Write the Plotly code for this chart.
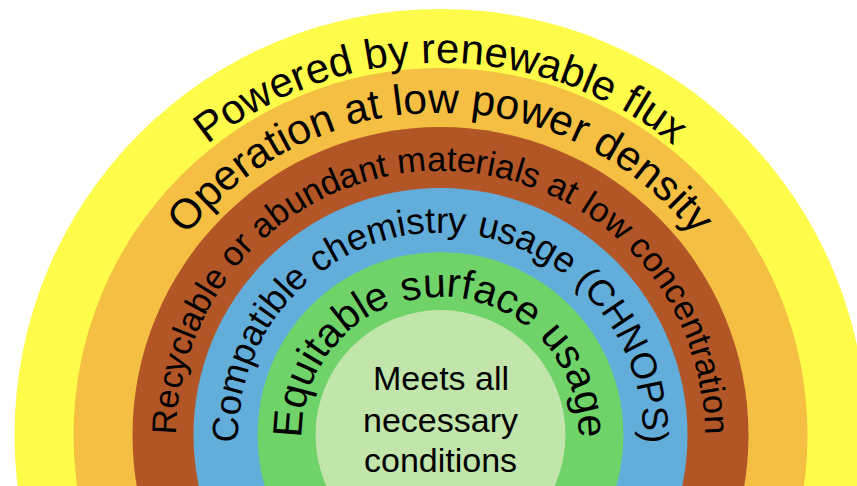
import math
import plotly.graph_objects as go

# ---- content ----
ring_labels = [
    "Powered by renewable flux",
    "Operation at low power density",
    "Recyclable or abundant materials at low concentration",
    "Compatible chemistry usage (CHNOPS)",
    "Equitable surface usage",
]
center_lines = ["Meets all", "necessary", "conditions"]

# ---- layout / style ----
W, H = 857, 486
CX, CY = 440.5, 435
outer_radii = [426, 367, 308, 247, 183, 125]
fills = ["#FEFB4B", "#F4BF43", "#B25628", "#63ADDA", "#6FD36A", "#C1E5AB"]
font_sizes = [42, 42.5, 34.5, 36.5, 41]
baseline_radii = [372, 322, 264, 202, 138]
center_font = 34
center_baselines = [390, 432, 472]
FONT = "Liberation Sans, Arial, Helvetica, sans-serif"

# Helvetica / Arial advance widths (per 1000 em)
HELV = {
    ' ': 278, '(': 333, ')': 333,
    'A': 667, 'B': 667, 'C': 722, 'D': 722, 'E': 667, 'F': 611, 'G': 778, 'H': 722,
    'I': 278, 'J': 500, 'K': 667, 'L': 556, 'M': 833, 'N': 722, 'O': 778, 'P': 667,
    'Q': 778, 'R': 722, 'S': 667, 'T': 611, 'U': 722, 'V': 667, 'W': 944, 'X': 667,
    'Y': 667, 'Z': 611,
    'a': 556, 'b': 556, 'c': 500, 'd': 556, 'e': 556, 'f': 278, 'g': 556, 'h': 556,
    'i': 222, 'j': 222, 'k': 500, 'l': 222, 'm': 833, 'n': 556, 'o': 556, 'p': 556,
    'q': 556, 'r': 333, 's': 500, 't': 278, 'u': 556, 'v': 500, 'w': 722, 'x': 500,
    'y': 500, 'z': 500,
}

shapes = []
for r, c in zip(outer_radii, fills):
    shapes.append(dict(type="circle", xref="x", yref="y",
                       x0=CX - r, x1=CX + r, y0=CY - r, y1=CY + r,
                       fillcolor=c, line=dict(width=0), layer="below"))

annotations = []
for label, fs, rb in zip(ring_labels, font_sizes, baseline_radii):
    widths = [HELV.get(ch, 556) / 1000.0 * fs for ch in label]
    total = sum(widths)
    theta0 = -total / (2.0 * rb)
    cum = 0.0
    for ch, w in zip(label, widths):
        th = theta0 + (cum + w / 2.0) / rb
        cum += w
        if ch == " ":
            continue
        rc = rb + 0.35 * fs
        x = CX + rc * math.sin(th)
        y = CY - rc * math.cos(th)
        annotations.append(dict(x=x, y=y, xref="x", yref="y", text=ch,
                                showarrow=False, textangle=math.degrees(th),
                                xanchor="center", yanchor="middle",
                                font=dict(size=fs, family=FONT, color="black")))

for line, yb in zip(center_lines, center_baselines):
    annotations.append(dict(x=CX, y=yb - 0.35 * center_font, xref="x", yref="y",
                            text=line, showarrow=False,
                            xanchor="center", yanchor="middle",
                            font=dict(size=center_font, family=FONT, color="black")))

fig = go.Figure()
fig.add_trace(go.Scatter(x=[], y=[], mode="markers", showlegend=False, hoverinfo="skip"))
fig.update_layout(
    width=W, height=H,
    margin=dict(l=0, r=0, t=0, b=0),
    paper_bgcolor="white", plot_bgcolor="white",
    shapes=shapes, annotations=annotations,
    xaxis=dict(range=[0, W], visible=False, fixedrange=True),
    yaxis=dict(range=[H, 0], visible=False, fixedrange=True),
    showlegend=False,
)
fig.write_html("out.html", config={"displayModeBar": False},
               post_script="document.body.style.margin='0px';document.body.style.overflow='hidden';")
